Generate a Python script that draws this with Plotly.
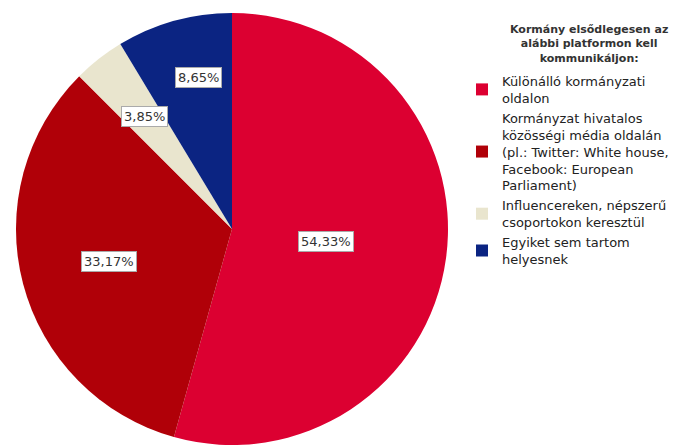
import math
import plotly.graph_objects as go

categories = [
    "Különálló kormányzati<br>oldalon",
    "Kormányzat hivatalos<br>közösségi média oldalán<br>(pl.: Twitter: White house,<br>Facebook: European<br>Parliament)",
    "Influencereken, népszerű<br>csoportokon keresztül",
    "Egyiket sem tartom<br>helyesnek",
]
values = [54.33, 33.17, 3.85, 8.65]
labels_text = ["54,33%", "33,17%", "3,85%", "8,65%"]
colors = ["#DC0031", "#B00008", "#E9E5CE", "#0B2482"]
legend_title = "Kormány elsődlegesen az<br>alábbi platformon kell<br>kommunikáljon:"

FONT = "DejaVu Sans, Liberation Sans, Arial"
W, H = 692, 448
cx, cy, R = 232, 229, 216
dom_x = [(cx - R) / W, (cx + R) / W]
dom_y = [1 - (cy + R) / H, 1 - (cy - R) / H]

fig = go.Figure(go.Pie(
    labels=categories, values=values, sort=False, direction="clockwise",
    rotation=0, textinfo="none", hoverinfo="label+percent",
    marker=dict(colors=colors, line=dict(width=0)),
    domain=dict(x=dom_x, y=dom_y),
))

# label positions derived from the slice angles (radius fraction, angular nudge in deg)
label_r = [0.44, 0.59, 0.66, 0.72]
label_nudge = [0, 0, 0, 3]
total = sum(values)
cum = 0
for v, t, rf, nd in zip(values, labels_text, label_r, label_nudge):
    mid = (cum + v / 2) / total * 2 * math.pi + math.radians(nd)
    cum += v
    px = cx + rf * R * math.sin(mid)
    py = cy - rf * R * math.cos(mid)
    fig.add_annotation(
        x=px / W, y=1 - py / H, xref="paper", yref="paper", text=t,
        xanchor="center", yanchor="middle",
        showarrow=False, font=dict(family=FONT, size=13, color="#333333"),
        bgcolor="white", bordercolor="#aaaaaa", borderwidth=1, borderpad=2,
    )

# legend title (centered block)
fig.add_annotation(
    x=589 / W, y=1 - 21 / H, xref="paper", yref="paper", xanchor="center", yanchor="top",
    text="<b>" + legend_title + "</b>", showarrow=False, align="center",
    font=dict(family=FONT, size=11, color="#333333"),
)

fig.update_layout(
    width=W, height=H, margin=dict(l=0, r=0, t=0, b=0),
    paper_bgcolor="white", plot_bgcolor="white",
    legend=dict(
        x=462 / W, y=1 - 66 / H, xanchor="left", yanchor="top",
        font=dict(family=FONT, size=13, color="#222222"),
        itemwidth=30, tracegroupgap=0, bgcolor="rgba(0,0,0,0)",
    ),
)
fig.write_html("out.html")
